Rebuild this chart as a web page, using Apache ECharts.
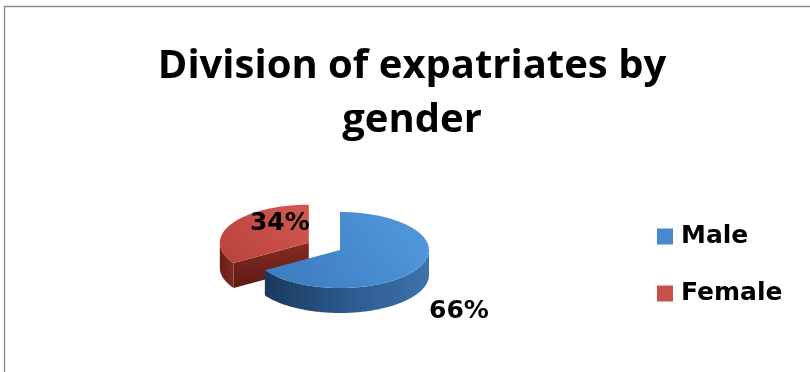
<!DOCTYPE html>
<html>
<head>
<meta charset="utf-8">
<script src="https://cdn.jsdelivr.net/npm/echarts@6/dist/echarts.min.js"></script>
<style>
  html, body { margin: 0; padding: 0; background: #fff; }
  #chart { width: 810px; height: 372px; }
</style>
</head>
<body>
<div id="chart"></div>
<script>
// Data
const categories = ['Male', 'Female'];
const values = [66, 34];
const titleLines = ['Division of expatriates by', 'gender'];

const total = values.reduce((a, b) => a + b, 0);

// Layout of the tilted (3D-look) pie
const PIE = { cx: 340, cy: 250, rx: 89, ry: 38, depth: 25 };
const explode = [0, 0.4];                // pull-out fraction per slice
const labelOffset = [[119, 61], [-29, -19]]; // label centre relative to slice centre
const palette = [
  { top: ['#4f95d9', '#3e7ec3'], wall: ['#3d72ab', '#2b5a8e', '#1a395c'], cut: ['#2f5f95', '#1d3f66'], legend: '#4a88cc' },
  { top: ['#d0564e', '#bb443e'], wall: ['#7f2a22', '#671e18'], cut: ['#852b23', '#5c1a14'], legend: '#c8504a' }
];
const labelFont = 'bold 25px "DejaVu Sans"';

function stops(colors) {
  return colors.map((c, k) => ({ offset: colors.length === 1 ? 0 : k / (colors.length - 1), color: c }));
}

function renderSlice(i) {
  return function (params, api) {
    const v = api.value(0);
    let before = 0;
    for (let k = 0; k < i; k++) before += values[k];
    const TAU = Math.PI * 2;
    const a0 = before / total * TAU;
    const a1 = (before + v) / total * TAU;
    const mid = (a0 + a1) / 2;
    const ex = explode[i];
    const cx = PIE.cx + ex * PIE.rx * Math.sin(mid);
    const cy = PIE.cy - ex * PIE.ry * Math.cos(mid);
    const h = PIE.depth;
    const P = (t, dz) => [cx + PIE.rx * Math.sin(t), cy - PIE.ry * Math.cos(t) + (dz || 0)];
    const arc = (s, e, dz) => {
      const n = Math.max(2, Math.ceil(Math.abs(e - s) / 0.02));
      const pts = [];
      for (let j = 0; j <= n; j++) pts.push(P(s + (e - s) * j / n, dz));
      return pts;
    };
    const col = palette[i];
    const children = [];

    // cut faces (radial walls) that face the viewer
    if (Math.sin(a0) < -1e-6) {
      children.push({
        type: 'polygon',
        shape: { points: [[cx, cy], P(a0), P(a0, h), [cx, cy + h]] },
        style: { fill: { type: 'linear', x: 0, y: 0, x2: 0, y2: 1, colorStops: stops(col.cut) } }
      });
    }
    if (Math.sin(a1) > 1e-6) {
      children.push({
        type: 'polygon',
        shape: { points: [[cx, cy], P(a1), P(a1, h), [cx, cy + h]] },
        style: { fill: { type: 'linear', x: 0, y: 0, x2: 0, y2: 1, colorStops: stops(col.cut) } }
      });
    }

    // outer wall on the front half
    const s = Math.max(a0, Math.PI / 2);
    const e = Math.min(a1, Math.PI * 1.5);
    if (e > s) {
      const pts = arc(s, e, 0).concat(arc(s, e, h).reverse());
      children.push({
        type: 'polygon',
        shape: { points: pts },
        style: { fill: { type: 'linear', x: 1, y: 0, x2: 0, y2: 0, colorStops: stops(col.wall) } }
      });
    }

    // top face
    children.push({
      type: 'polygon',
      shape: { points: [[cx, cy]].concat(arc(a0, a1, 0)) },
      style: { fill: { type: 'linear', x: 0.8, y: 0, x2: 0.2, y2: 1, colorStops: stops(col.top) } }
    });

    // percentage label
    children.push({
      type: 'text',
      style: {
        text: Math.round(v / total * 100) + '%',
        x: cx + labelOffset[i][0],
        y: cy + labelOffset[i][1],
        font: labelFont,
        fill: '#000',
        align: 'center',
        verticalAlign: 'middle'
      }
    });

    return { type: 'group', children: children };
  };
}

// slices further back are drawn first
const series = categories.map((name, i) => {
  let before = 0;
  for (let k = 0; k < i; k++) before += values[k];
  const mid = (before + values[i] / 2) / total * Math.PI * 2;
  return {
    type: 'custom',
    name: name,
    coordinateSystem: 'none',
    z: -Math.cos(mid) > 0 ? 3 : 2,
    itemStyle: { color: palette[i].legend },
    data: [values[i]],
    renderItem: renderSlice(i)
  };
});

const chart = echarts.init(document.getElementById('chart'), null, { renderer: 'canvas' });
chart.setOption({
  backgroundColor: '#ffffff',
  animation: false,
  title: {
    text: titleLines.join('\n'),
    left: 412,
    textAlign: 'center',
    top: 40,
    padding: 0,
    textStyle: {
      fontFamily: 'Open Sans',
      fontWeight: 'bold',
      fontSize: 40,
      lineHeight: 54,
      color: '#000'
    }
  },
  legend: {
    orient: 'vertical',
    left: 657,
    top: 224,
    padding: 0,
    itemWidth: 16,
    itemHeight: 16,
    itemGap: 32,
    icon: 'rect',
    data: categories,
    textStyle: {
      fontFamily: 'DejaVu Sans',
      fontWeight: 'bold',
      fontSize: 25,
      color: '#000',
      padding: [0, 0, 0, 3]
    }
  },
  graphic: [{
    type: 'polyline',
    shape: { points: [[4.5, 372], [4.5, 6.5], [810, 6.5]] },
    style: { stroke: '#8c8c8c', lineWidth: 1.3, fill: null }
  }],
  series: series
});
</script>
</body>
</html>
